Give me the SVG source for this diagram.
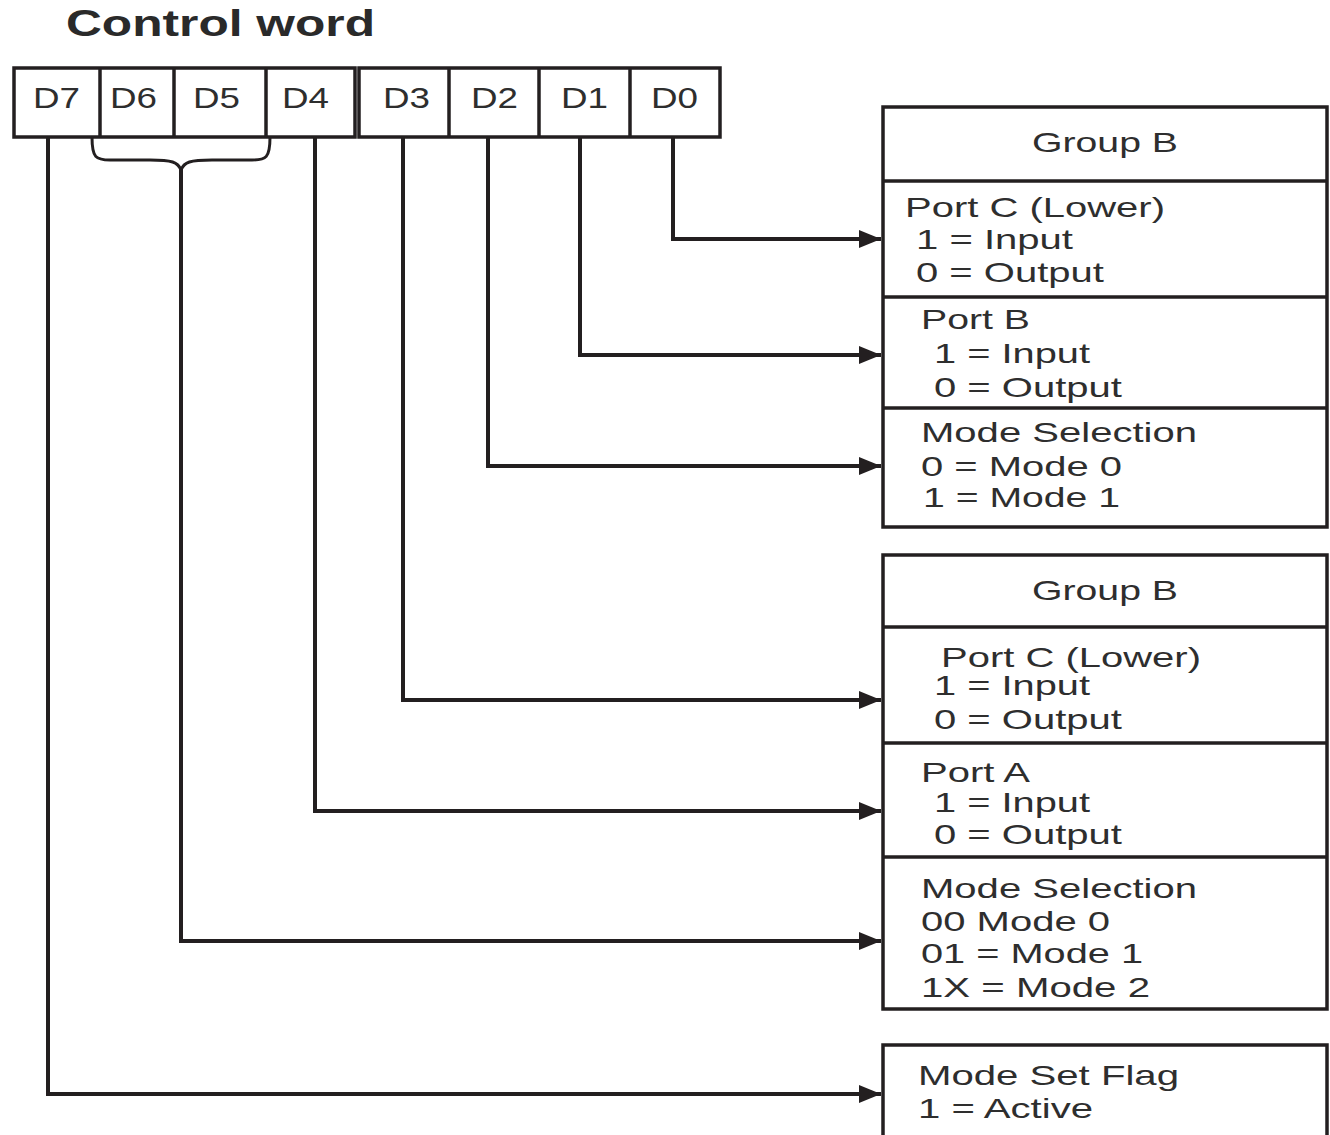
<svg xmlns="http://www.w3.org/2000/svg" width="1330" height="1135" viewBox="0 0 1330 1135">
  <defs>
    <style>
      .t { font-family: "Liberation Sans", Arial, sans-serif; font-size: 28px; fill: #2e2e2e; }
      .d { font-family: "Liberation Sans", Arial, sans-serif; font-size: 29px; fill: #2e2e2e; }
      .title { font-family: "Liberation Sans", Arial, sans-serif; font-size: 36px; font-weight: bold; fill: #2a2a2a; }
      .box { fill: #ffffff; stroke: #231f20; stroke-width: 3.5; }
      .div { stroke: #231f20; stroke-width: 3.5; }
      .wire { fill: none; stroke: #231f20; stroke-width: 3; }
      .wireh { fill: none; stroke: #231f20; stroke-width: 4; }
    </style>
    <marker id="arr" markerWidth="22" markerHeight="18" refX="22" refY="9" orient="auto" markerUnits="userSpaceOnUse">
      <path d="M0,0 L22,9 L0,18 Z" fill="#231f20"/>
    </marker>
  </defs>
  <rect width="1330" height="1135" fill="#ffffff"/>

  <text class="title" x="66" y="36" textLength="309" lengthAdjust="spacingAndGlyphs">Control word</text>

  <g id="control-word">
    <rect class="box" x="14" y="68" width="341" height="69"/>
    <line class="div" x1="100" y1="68" x2="100" y2="137"/>
    <line class="div" x1="174" y1="68" x2="174" y2="137"/>
    <line class="div" x1="266" y1="68" x2="266" y2="137"/>
    <rect class="box" x="359" y="68" width="361" height="69"/>
    <line class="div" x1="449" y1="68" x2="449" y2="137"/>
    <line class="div" x1="539" y1="68" x2="539" y2="137"/>
    <line class="div" x1="630" y1="68" x2="630" y2="137"/>
    <text class="d" x="33" y="108" textLength="47" lengthAdjust="spacingAndGlyphs">D7</text>
    <text class="d" x="110" y="108" textLength="47" lengthAdjust="spacingAndGlyphs">D6</text>
    <text class="d" x="193" y="108" textLength="47" lengthAdjust="spacingAndGlyphs">D5</text>
    <text class="d" x="282" y="108" textLength="47" lengthAdjust="spacingAndGlyphs">D4</text>
    <text class="d" x="383" y="108" textLength="47" lengthAdjust="spacingAndGlyphs">D3</text>
    <text class="d" x="471" y="108" textLength="47" lengthAdjust="spacingAndGlyphs">D2</text>
    <text class="d" x="561" y="108" textLength="47" lengthAdjust="spacingAndGlyphs">D1</text>
    <text class="d" x="651" y="108" textLength="47" lengthAdjust="spacingAndGlyphs">D0</text>
  </g>

  <g id="group-b-1">
    <rect class="box" x="883" y="107" width="444" height="420"/>
    <line class="div" x1="883" y1="181" x2="1327" y2="181"/>
    <line class="div" x1="883" y1="297" x2="1327" y2="297"/>
    <line class="div" x1="883" y1="408" x2="1327" y2="408"/>
    <text class="t" x="1032" y="152" textLength="146" lengthAdjust="spacingAndGlyphs">Group B</text>
    <text class="t" x="905" y="217" textLength="260" lengthAdjust="spacingAndGlyphs">Port C (Lower)</text>
    <text class="t" x="916" y="249" textLength="157" lengthAdjust="spacingAndGlyphs">1 = Input</text>
    <text class="t" x="916" y="282" textLength="188" lengthAdjust="spacingAndGlyphs">0 = Output</text>
    <text class="t" x="921" y="329" textLength="109" lengthAdjust="spacingAndGlyphs">Port B</text>
    <text class="t" x="934" y="363" textLength="156" lengthAdjust="spacingAndGlyphs">1 = Input</text>
    <text class="t" x="934" y="397" textLength="188" lengthAdjust="spacingAndGlyphs">0 = Output</text>
    <text class="t" x="921" y="442" textLength="276" lengthAdjust="spacingAndGlyphs">Mode Selection</text>
    <text class="t" x="921" y="476" textLength="201" lengthAdjust="spacingAndGlyphs">0 = Mode 0</text>
    <text class="t" x="923" y="507" textLength="197" lengthAdjust="spacingAndGlyphs">1 = Mode 1</text>
  </g>

  <g id="group-b-2">
    <rect class="box" x="883" y="555" width="444" height="454"/>
    <line class="div" x1="883" y1="627" x2="1327" y2="627"/>
    <line class="div" x1="883" y1="743" x2="1327" y2="743"/>
    <line class="div" x1="883" y1="857" x2="1327" y2="857"/>
    <text class="t" x="1032" y="600" textLength="146" lengthAdjust="spacingAndGlyphs">Group B</text>
    <text class="t" x="941" y="667" textLength="260" lengthAdjust="spacingAndGlyphs">Port C (Lower)</text>
    <text class="t" x="934" y="695" textLength="156" lengthAdjust="spacingAndGlyphs">1 = Input</text>
    <text class="t" x="934" y="729" textLength="188" lengthAdjust="spacingAndGlyphs">0 = Output</text>
    <text class="t" x="921" y="782" textLength="109" lengthAdjust="spacingAndGlyphs">Port A</text>
    <text class="t" x="934" y="812" textLength="156" lengthAdjust="spacingAndGlyphs">1 = Input</text>
    <text class="t" x="934" y="844" textLength="188" lengthAdjust="spacingAndGlyphs">0 = Output</text>
    <text class="t" x="921" y="898" textLength="276" lengthAdjust="spacingAndGlyphs">Mode Selection</text>
    <text class="t" x="921" y="931" textLength="189" lengthAdjust="spacingAndGlyphs">00 Mode 0</text>
    <text class="t" x="921" y="963" textLength="222" lengthAdjust="spacingAndGlyphs">01 = Mode 1</text>
    <text class="t" x="921" y="997" textLength="229" lengthAdjust="spacingAndGlyphs">1X = Mode 2</text>
  </g>

  <g id="mode-set-flag">
    <rect class="box" x="883" y="1045" width="444" height="120"/>
    <text class="t" x="918" y="1085" textLength="261" lengthAdjust="spacingAndGlyphs">Mode Set Flag</text>
    <text class="t" x="918" y="1118" textLength="175" lengthAdjust="spacingAndGlyphs">1 = Active</text>
  </g>

  <g id="connectors">
    <path class="wire" d="M92,137 C92,158 96,160 110,160 L150,160 C172,160 178,162 181,170 C184,162 190,160 212,160 L252,160 C266,160 270,158 270,137"/>
    <path class="wireh" d="M673,137 L673,239 L881,239" marker-end="url(#arr)"/>
    <path class="wireh" d="M580,137 L580,355 L881,355" marker-end="url(#arr)"/>
    <path class="wireh" d="M488,137 L488,466 L881,466" marker-end="url(#arr)"/>
    <path class="wireh" d="M403,137 L403,700 L881,700" marker-end="url(#arr)"/>
    <path class="wireh" d="M315,137 L315,811 L881,811" marker-end="url(#arr)"/>
    <path class="wireh" d="M181,168 L181,941 L881,941" marker-end="url(#arr)"/>
    <path class="wireh" d="M48,137 L48,1094 L881,1094" marker-end="url(#arr)"/>
  </g>
</svg>
